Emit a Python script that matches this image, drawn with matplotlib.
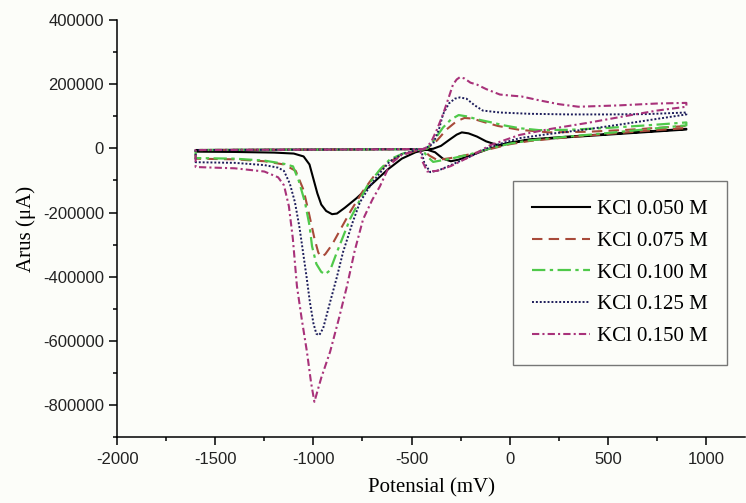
import matplotlib.pyplot as plt
from matplotlib.ticker import MultipleLocator

plt.rcParams['axes.unicode_minus'] = False

# Potential (mV) and current (uA) for each KCl concentration, one closed CV loop each
e_050 = [-430, -800, -1200, -1600, -1600, -1400, -1200, -1100, -1050, -1020, -1000, -980, -960, -935, -905, -880,
         -840, -780, -700, -620, -550, -480, -420, -390, -350, -305, -270, -244, -210, -167, -120, -60, 0, 100, 300,
         500, 700, 900, 900, 700, 500, 300, 100, 0, -100, -200, -260, -300, -340, -380, -430]
i_050 = [-2000, -3000, -4000, -5000, -10000, -11000, -13000, -16000, -25000, -50000, -95000, -140000, -175000,
         -195000, -205000, -203000, -185000, -155000, -110000, -65000, -32000, -12000, -3000, -1000, 8000, 28000,
         43000, 50000, 47000, 37000, 22000, 10000, 18000, 28000, 37000, 45000, 53000, 61000, 59000, 51000, 43000,
         35000, 26000, 16000, 0, -22000, -35000, -40000, -32000, -12000, -2000]

e_075 = [-430, -900, -1600, -1600, -1400, -1250, -1150, -1090, -1050, -1020, -995, -975, -960, -940, -905, -860,
         -810, -750, -690, -620, -550, -460, -420, -370, -320, -270, -230, -190, -130, -60, 50, 200, 400, 600, 750,
         900, 900, 700, 500, 300, 100, 0, -100, -200, -300, -370, -410, -440]
i_075 = [-2000, -3500, -5000, -32000, -34000, -40000, -50000, -70000, -130000, -210000, -280000, -325000, -338000,
         -330000, -300000, -250000, -195000, -135000, -85000, -45000, -20000, -5000, 0, 25000, 60000, 85000, 95000,
         93000, 82000, 70000, 58000, 50000, 52000, 58000, 64000, 70000, 63000, 55000, 45000, 35000, 23000, 13000,
         -2000, -18000, -30000, -36000, -22000, -5000]

e_100 = [-430, -900, -1600, -1600, -1400, -1250, -1150, -1104, -1075, -1043, -1020, -1007, -985, -960, -940, -915,
         -880, -814, -727, -660, -610, -540, -460, -420, -380, -340, -300, -260, -220, -160, -100, -30, 50, 150, 300,
         500, 700, 900, 900, 700, 500, 300, 100, 0, -100, -200, -300, -390, -420, -445]
i_100 = [-2000, -3500, -5000, -30000, -32000, -38000, -48000, -56000, -100000, -168000, -240000, -305000, -360000,
         -385000, -392000, -380000, -323000, -221000, -118000, -65000, -34000, -15000, -4000, 0, 30000, 65000, 90000,
         104000, 100000, 90000, 82000, 72000, 63000, 57000, 58000, 64000, 72000, 81000, 72000, 60000, 48000, 37000,
         25000, 15000, 0, -18000, -32000, -42000, -25000, -5000]

e_125 = [-430, -900, -1600, -1600, -1400, -1250, -1180, -1150, -1120, -1094, -1070, -1053, -1035, -1018, -1000, -985,
         -970, -950, -915, -880, -849, -800, -763, -720, -676, -610, -550, -480, -430, -390, -360, -340, -310, -280,
         -254, -220, -180, -137, -50, 100, 300, 500, 700, 900, 900, 750, 600, 400, 200, 50, -100, -200, -300, -360,
         -405, -435, -450]
i_125 = [-2000, -3500, -5000, -43000, -45000, -52000, -60000, -70000, -110000, -168000, -250000, -323000, -400000,
         -479000, -545000, -578000, -582000, -560000, -479000, -400000, -323000, -230000, -168000, -125000, -87000,
         -40000, -18000, -6000, 0, 15000, 60000, 106000, 140000, 155000, 159000, 155000, 135000, 118000, 112000,
         108000, 106000, 106000, 107000, 112000, 106000, 92000, 78000, 60000, 45000, 32000, 5000, -25000, -52000,
         -68000, -74000, -45000, -8000]

e_150 = [-430, -900, -1600, -1600, -1400, -1250, -1180, -1150, -1125, -1105, -1084, -1060, -1033, -1012, -995, -960,
         -915, -870, -829, -790, -747, -700, -661, -610, -550, -470, -430, -400, -370, -340, -310, -289, -270, -254,
         -230, -200, -167, -120, -50, 0, 60, 150, 250, 350, 450, 550, 650, 750, 900, 900, 750, 600, 400, 200, 50,
         -100, -200, -300, -370, -420, -445, -455]
i_150 = [-2000, -3500, -5000, -58000, -62000, -72000, -90000, -115000, -180000, -280000, -429000, -530000, -634000,
         -730000, -790000, -715000, -634000, -530000, -429000, -320000, -221000, -160000, -118000, -50000, -20000,
         -6000, 0, 20000, 60000, 106000, 160000, 199000, 215000, 222000, 218000, 205000, 199000, 185000, 168000,
         165000, 162000, 150000, 138000, 130000, 132000, 134000, 137000, 140000, 142000, 130000, 118000, 102000,
         80000, 60000, 42000, 10000, -25000, -55000, -70000, -72000, -40000, -8000]

labels = ['KCl 0.050 M', 'KCl 0.075 M', 'KCl 0.100 M', 'KCl 0.125 M', 'KCl 0.150 M']

fig = plt.figure(figsize=(7.46, 5.03), dpi=100, facecolor='#fcfdf9')
ax = fig.add_axes([0.157, 0.131, 0.842, 0.829])
ax.set_facecolor('#fcfdf9')

ax.plot(e_050, i_050, color='black', lw=1.5, linestyle='-', label=labels[0])
ax.plot(e_075, i_075, color='#a84a3a', lw=1.5, linestyle=(0, (5, 3)), label=labels[1])
ax.plot(e_100, i_100, color='#4fc94a', lw=1.6, linestyle=(0, (6, 2, 1.5, 2)), label=labels[2])
ax.plot(e_125, i_125, color='#1c1c5a', lw=1.4, linestyle=(0, (1, 1)), label=labels[3])
ax.plot(e_150, i_150, color='#a8327a', lw=1.5, linestyle=(0, (3.5, 1.5, 1, 1.5)), label=labels[4])

ax.set_xlim(-2000, 1200)
ax.set_ylim(-900000, 400000)
ax.xaxis.set_major_locator(MultipleLocator(500))
ax.xaxis.set_minor_locator(MultipleLocator(250))
ax.yaxis.set_major_locator(MultipleLocator(200000))
ax.yaxis.set_minor_locator(MultipleLocator(100000))

for s in ['top', 'right']:
    ax.spines[s].set_visible(False)
for s in ['left', 'bottom']:
    ax.spines[s].set_linewidth(1.1)

ax.tick_params(which='major', direction='out', length=6, width=1.1, labelsize=12)
ax.tick_params(axis='x', which='major', pad=5)
ax.tick_params(which='minor', direction='out', length=3, width=1.1)
for t in ax.get_xticklabels() + ax.get_yticklabels():
    t.set_fontfamily('Liberation Sans')
    t.set_color('#222222')

ax.set_xlabel('Potensial (mV)', fontfamily='Liberation Serif', fontsize=15, labelpad=8)
ax.set_ylabel('Arus (μA)', fontfamily='Liberation Serif', fontsize=15, labelpad=5)

leg = ax.legend(loc='upper left', bbox_to_anchor=(0.63, 0.614), prop={'family': 'Liberation Serif', 'size': 15},
                frameon=True, fancybox=False, handlelength=2.8, handletextpad=0.35, labelspacing=0.58,
                borderpad=0.9, borderaxespad=0)
leg.get_frame().set_facecolor('none')
leg.get_frame().set_edgecolor('#555555')
leg.get_frame().set_linewidth(1.0)

fig.savefig('out.png', dpi=100, facecolor=fig.get_facecolor())
